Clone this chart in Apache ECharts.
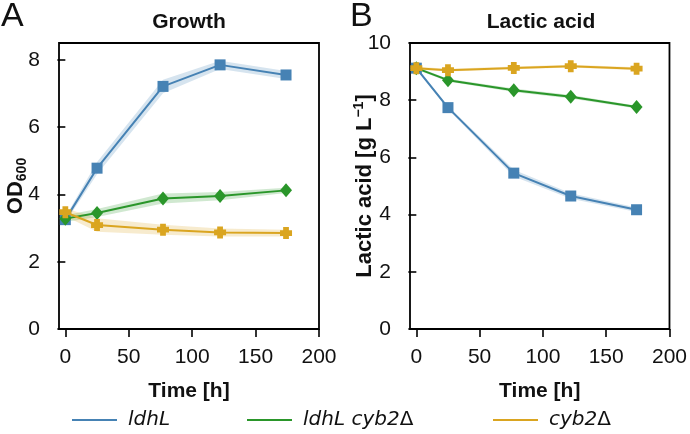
<!DOCTYPE html>
<html><head><meta charset="utf-8">
<script src="https://cdn.jsdelivr.net/npm/echarts@6/dist/echarts.min.js"></script>
<style>html,body{margin:0;padding:0;background:#fff}#c{width:690px;height:434px}</style>
</head><body><div id="c"></div>
<script>
const time = [0, 25, 77, 122, 174];
const seriesNames = ['ldhL', 'ldhL cyb2Δ', 'cyb2Δ'];
const odLdhL = [3.25, 4.78, 7.21, 7.85, 7.55];
const odLdhLCyb2 = [3.28, 3.45, 3.88, 3.95, 4.12];
const odCyb2 = [3.47, 3.09, 2.95, 2.87, 2.85];
const odLdhLSd = [0.08, 0.18, 0.2, 0.12, 0.12];
const odLdhLCyb2Sd = [0.1, 0.12, 0.15, 0.12, 0.08];
const odCyb2Sd = [0.12, 0.2, 0.15, 0.12, 0.1];
const laLdhL = [9.12, 7.74, 5.45, 4.65, 4.17];
const laLdhLCyb2 = [9.12, 8.7, 8.35, 8.12, 7.76];
const laCyb2 = [9.12, 9.05, 9.13, 9.19, 9.1];
const laLdhLSd = [0.05, 0.06, 0.12, 0.1, 0.08];
const laLdhLCyb2Sd = [0.05, 0.05, 0.06, 0.06, 0.05];
const laCyb2Sd = [0.05, 0.05, 0.05, 0.05, 0.05];
const xTicks = [0, 50, 100, 150, 200];
const odTicks = [0, 2, 4, 6, 8];
const laTicks = [0, 2, 4, 6, 8, 10];

const colors = ['#4682b4', '#2a962a', '#daa520'];
const bands = ['rgba(70,130,180,0.22)', 'rgba(42,150,42,0.22)', 'rgba(218,165,32,0.22)'];
const symbols = ['rect', 'diamond', 'path://M2.6,0H7.4V2.6H10V7.4H7.4V10H2.6V7.4H0V2.6H2.6Z'];
const symSizes = [11, [12, 14], 12];
const SANS = '"Liberation Sans", Arial, sans-serif';
const FS = 21;

const chart = echarts.init(document.getElementById('c'));
const panels = [
  { vals: [odLdhL, odLdhLCyb2, odCyb2], sds: [odLdhLSd, odLdhLCyb2Sd, odCyb2Sd] },
  { vals: [laLdhL, laLdhLCyb2, laCyb2], sds: [laLdhLSd, laLdhLCyb2Sd, laCyb2Sd] }
];
const series = [];
panels.forEach((p, gi) => {
  p.vals.forEach((v, si) => {
    const sd = p.sds[si];
    series.push({
      type: 'custom', name: 'band' + gi + '_' + si, xAxisIndex: gi, yAxisIndex: gi,
      data: time.map((t, i) => [t, v[i]]), encode: { x: 0, y: 1 }, silent: true, z: 1,
      renderItem: function (params, api) {
        if (params.dataIndex !== 0) return null;
        const pts = [];
        for (let i = 0; i < time.length; i++) pts.push(api.coord([time[i], v[i] + sd[i]]));
        for (let i = time.length - 1; i >= 0; i--) pts.push(api.coord([time[i], v[i] - sd[i]]));
        return { type: 'polygon', shape: { points: pts }, style: { fill: bands[si], stroke: null } };
      }
    });
  });
  p.vals.forEach((v, si) => {
    series.push({
      type: 'line', name: seriesNames[si], xAxisIndex: gi, yAxisIndex: gi,
      data: time.map((t, i) => [t, v[i]]),
      symbol: symbols[si], symbolSize: symSizes[si], showAllSymbol: true,
      lineStyle: { color: colors[si], width: 2 },
      itemStyle: { color: colors[si] }, z: 3 + si
    });
  });
});

function xAxisCfg(gi) {
  return {
    type: 'value', gridIndex: gi, min: -5, max: 200,
    axisLine: { show: false }, splitLine: { show: false },
    axisTick: { show: true, length: 8, lineStyle: { color: '#000', width: 1.6 }, customValues: xTicks },
    axisLabel: { fontSize: FS, color: '#111', fontFamily: SANS, margin: 18, customValues: xTicks },
    name: 'Time [h]', nameLocation: 'middle', nameGap: 52,
    nameTextStyle: { fontSize: FS, fontWeight: 'bold', color: '#111', fontFamily: SANS }
  };
}
function yAxisCfg(gi, max, ticks, name, gap) {
  return {
    type: 'value', gridIndex: gi, min: 0, max: max,
    axisLine: { show: false }, splitLine: { show: false },
    axisTick: { show: true, length: 8, lineStyle: { color: '#000', width: 1.6 }, customValues: ticks },
    axisLabel: { fontSize: FS, color: '#111', fontFamily: SANS, margin: 19, customValues: ticks },
    name: name, nameLocation: 'middle', nameRotate: 90, nameGap: gap, nameMoveOverlap: false,
    nameTextStyle: { color: '#111', rich: nameRich }
  };
}
const nameRich = {
  a: { fontSize: 22, fontWeight: 'bold', fontFamily: SANS, color: '#111', lineHeight: 26 },
  s: { fontSize: 14, fontWeight: 'bold', fontFamily: SANS, color: '#111', lineHeight: 10, verticalAlign: 'bottom' },
  p: { fontSize: 14, fontWeight: 'bold', fontFamily: SANS, color: '#111', lineHeight: 14, verticalAlign: 'top' }
};
const legendRich = {
  i: { fontSize: 20, fontStyle: 'italic', fontFamily: 'DejaVu Sans', color: '#111' },
  n: { fontSize: 20, fontFamily: 'DejaVu Sans', color: '#111' }
};
function legendFmt(n) {
  if (n.endsWith('Δ')) return '{i|' + n.slice(0, -1) + '}{n|Δ}';
  return '{i|' + n + '}';
}
const legendLefts = [67, 242, 488];

chart.setOption({
  animation: false,
  backgroundColor: '#fff',
  title: [
    { text: 'A', left: 1, top: 0, padding: 0, textStyle: { fontSize: 34, fontWeight: 'normal', fontFamily: SANS, color: '#111' } },
    { text: 'B', left: 350, top: 0, padding: 0, textStyle: { fontSize: 34, fontWeight: 'normal', fontFamily: SANS, color: '#111' } },
    { text: 'Growth', left: 184, textAlign: 'center', top: 7, textStyle: { fontSize: FS, fontWeight: 'bold', fontFamily: SANS, color: '#111' } },
    { text: 'Lactic acid', left: 536, textAlign: 'center', top: 7, textStyle: { fontSize: FS, fontWeight: 'bold', fontFamily: SANS, color: '#111' } }
  ],
  grid: [
    { left: 59, top: 43, width: 260, height: 286, show: true, borderColor: '#000', borderWidth: 1.8, backgroundColor: 'transparent' },
    { left: 410, top: 43, width: 260, height: 286, show: true, borderColor: '#000', borderWidth: 1.8, backgroundColor: 'transparent' }
  ],
  xAxis: [xAxisCfg(0), xAxisCfg(1)],
  yAxis: [
    yAxisCfg(0, 8.5, odTicks, '{a|OD}{s|600}', 30),
    yAxisCfg(1, 10, laTicks, '{a|Lactic acid [g L}{p|−1}{a|]}', 32)
  ],
  legend: seriesNames.map((n, i) => ({
    data: [n], left: legendLefts[i], top: 405, icon: 'rect', itemWidth: 45, itemHeight: 2,
    formatter: legendFmt, selectedMode: false,
    textStyle: { padding: [0, 0, 0, 6], rich: legendRich }
  })),
  series: series
});
</script></body></html>
